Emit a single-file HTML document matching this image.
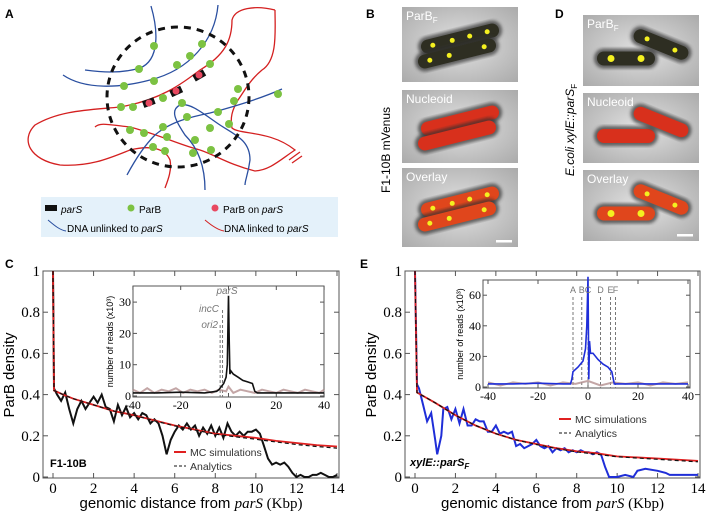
<!DOCTYPE html>
<html><head><meta charset="utf-8"><style>
body{margin:0;background:#fff;width:709px;height:511px;overflow:hidden}
svg{display:block}
text{font-family:"Liberation Sans",sans-serif}
.serif{font-family:"Liberation Serif",serif}
</style></head><body>
<svg id="fig" width="709" height="511" viewBox="0 0 709 511" xmlns="http://www.w3.org/2000/svg">
<text x="5" y="18" font-size="12" font-weight="bold">A</text>
<text x="366" y="18" font-size="12" font-weight="bold">B</text>
<text x="555" y="18" font-size="12" font-weight="bold">D</text>
<text x="5" y="268" font-size="12" font-weight="bold">C</text>
<text x="360" y="268" font-size="12" font-weight="bold">E</text>

<g fill="none" stroke-width="1.3">
<path d="M151 6 C158 30 160 60 140 68 C120 74 100 72 85 70" stroke="#2a4fa0"/>
<path d="M218 5 C215 40 190 70 150 80 C120 88 85 90 63 75" stroke="#2a4fa0"/>
<path d="M275 10 C275 30 278 60 262 70 C250 80 245 90 238 100 C232 110 230 118 232 128 C240 135 270 130 295 150 C280 160 270 170 255 171 C230 165 215 155 200 150 C180 145 160 135 130 127 C110 125 100 122 95 127" stroke="#d42020"/>
<path d="M275 10 C255 5 235 8 232 20 C232 40 225 55 200 70 C180 85 160 100 120 107 C90 110 60 110 35 125 C20 140 30 160 60 165 C90 167 110 158 130 150 C150 145 165 148 170 160 C172 170 168 180 165 188" stroke="#d42020"/>
<path d="M282 89 C262 98 240 105 210 113 C190 117 170 122 155 135 C145 145 135 160 127 175" stroke="#2a4fa0"/>
<path d="M205 190 C205 170 200 150 185 135 C175 120 170 110 180 105 C190 102 205 115 220 125 C235 135 250 140 250 160 C248 175 245 180 245 185" stroke="#2a4fa0"/>
<line x1="289" y1="160" x2="300" y2="152" stroke="#d42020"/>
<line x1="292" y1="163" x2="302" y2="156" stroke="#d42020"/>
<ellipse cx="178" cy="97" rx="71" ry="70" stroke="#111" stroke-width="3" stroke-dasharray="7,6"/>
<g fill="#7cc242" stroke="none">
<circle cx="154" cy="46" r="4"/><circle cx="139" cy="69" r="4"/><circle cx="124" cy="86" r="4"/><circle cx="154" cy="81" r="4"/><circle cx="177" cy="65" r="4"/><circle cx="190" cy="56" r="4"/><circle cx="202" cy="44" r="4"/><circle cx="210" cy="64" r="4"/>
<circle cx="121" cy="107" r="4"/><circle cx="133" cy="107" r="4"/><circle cx="163" cy="98" r="4"/><circle cx="182" cy="103" r="4"/><circle cx="238" cy="89" r="4"/><circle cx="234" cy="101" r="4"/><circle cx="218" cy="112" r="4"/><circle cx="229" cy="124" r="4"/><circle cx="278" cy="94" r="4"/>
<circle cx="130" cy="130" r="4"/><circle cx="144" cy="133" r="4"/><circle cx="163" cy="127" r="4"/><circle cx="187" cy="117" r="4"/><circle cx="210" cy="128" r="4"/><circle cx="167" cy="137" r="4"/><circle cx="195" cy="140" r="4"/><circle cx="153" cy="147" r="4"/><circle cx="165" cy="151" r="4"/><circle cx="193" cy="153" r="4"/><circle cx="211" cy="150" r="4"/>
</g>
<g stroke="none"><rect x="143" y="99" width="12" height="7" fill="#111" transform="rotate(-20 149 103)"/><circle cx="149" cy="103" r="3.5" fill="#e84860"/>
<rect x="170" y="88" width="12" height="7" fill="#111" transform="rotate(-25 176 91)"/><circle cx="176" cy="91" r="3.5" fill="#e84860"/>
<rect x="193" y="72" width="12" height="7" fill="#111" transform="rotate(-30 199 75)"/><circle cx="199" cy="75" r="3.5" fill="#e84860"/></g>
</g>
<g>
<rect x="41" y="197" width="297" height="40" fill="#e4f1fa"/>
<rect x="45" y="205" width="12" height="6" fill="#111"/>
<text x="61" y="213" font-size="10" font-style="italic">parS</text>
<circle cx="131" cy="208" r="3.5" fill="#7cc242"/><text x="139" y="213" font-size="10">ParB</text>
<circle cx="215" cy="208" r="3.5" fill="#e84860"/><text x="223" y="213" font-size="10">ParB on <tspan font-style="italic">parS</tspan></text>
<path d="M48 220 C55 226 60 230 66 231" stroke="#2a4fa0" fill="none"/><text x="67" y="232" font-size="10">DNA unlinked to <tspan font-style="italic">parS</tspan></text>
<path d="M205 220 C212 226 218 230 224 231" stroke="#d42020" fill="none"/><text x="224" y="232" font-size="10">DNA linked to <tspan font-style="italic">parS</tspan></text>
</g>

<defs>
<radialGradient id="bg" cx="50%" cy="50%" r="70%"><stop offset="0" stop-color="#e2e2e2"/><stop offset="1" stop-color="#ababab"/></radialGradient>
<filter id="blur"><feGaussianBlur stdDeviation="1.5"/></filter>
</defs>
<text x="0" y="0" font-size="12" transform="translate(390 150) rotate(-90)" text-anchor="middle">F1-10B mVenus</text>
<text x="0" y="0" font-size="12" transform="translate(574 130) rotate(-90)" text-anchor="middle"><tspan font-style="italic">E.coli xylE::parS</tspan><tspan font-size="8" dy="3">F</tspan></text>
<g id="micro"></g>

<g id="chartC"></g>
<g id="chartE"></g>
</svg>
<script>
// ---- data: panel C main ----
const cX = [0,0.05,0.2,0.4,0.6,0.8,1.0,1.2,1.4,1.6,1.8,2.0,2.2,2.4,2.6,2.8,3.0,3.2,3.4,3.6,3.8,4.0,4.2,4.4,4.6,4.8,5.0,5.2,5.4,5.6,5.8,6.0,6.2,6.4,6.6,6.8,7.0,7.2,7.4,7.6,7.8,8.0,8.2,8.4,8.6,8.8,9.0,9.2,9.4,9.6,9.8,10.0,10.2,10.4,10.6,10.8,11.0,11.2,11.4,11.6,11.8,12.0,12.2,12.4,12.6,12.8,13.0,13.2,13.4,13.6,13.8,14.0];
const cData = [1.0,0.43,0.40,0.37,0.41,0.33,0.26,0.33,0.37,0.33,0.36,0.39,0.36,0.40,0.34,0.33,0.27,0.35,0.30,0.34,0.29,0.31,0.28,0.31,0.30,0.26,0.28,0.26,0.20,0.11,0.18,0.22,0.25,0.23,0.26,0.23,0.25,0.20,0.24,0.21,0.25,0.20,0.24,0.19,0.26,0.22,0.20,0.22,0.20,0.22,0.22,0.23,0.21,0.15,0.09,0.06,0.07,0.06,0.07,0.05,0.02,0.0,0.01,0.0,0.0,0.01,0.01,0.02,0.01,0.0,0.0,0.01];
const cModelX = [0,0.05,0.5,1,2,3,4,5,6,7,8,9,10,11,12,13,14];
const cMC = [1.0,0.42,0.40,0.38,0.35,0.32,0.30,0.275,0.25,0.23,0.21,0.20,0.19,0.175,0.165,0.155,0.148];
const cAn = [1.0,0.42,0.40,0.38,0.35,0.32,0.30,0.273,0.248,0.228,0.208,0.195,0.183,0.17,0.158,0.148,0.14];
// ---- data: panel C inset ----
const ciX = [-40,-30,-20,-10,-5,-4,-2,-1,-0.5,0,0.3,0.6,1,2,4,6,8,10,11,12,20,30,40];
const ciBlack = [1,1,1.2,1,1.5,2,4,6,10,32,18,7,8,7,6,5,4.5,4,1.5,1,1,1,1];
const ciBgX = [-40,-37,-34,-31,-28,-25,-22,-19,-16,-13,-10,-7,-4,-1,0,2,5,8,11,14,17,20,23,26,29,32,35,38,40];
const ciBg = [2,1,2.5,1,2,1.5,2.5,1,2,1.5,2,1,2,1.5,3,1,2,1.5,1,2,1.5,1,2,1.5,1,2,1.5,1,2];
const ciYTicks = [0,10,20,30];
const ciXTicks = [-40,-20,0,20,40];
const ciMarks = [-3.5,-2.5];
// ---- data: panel E main ----
const eX = [0,0.1,0.2,0.4,0.6,0.8,1.0,1.1,1.3,1.4,1.6,1.8,2.0,2.2,2.4,2.6,2.8,3.0,3.2,3.4,3.6,3.8,4.0,4.2,4.4,4.6,4.8,5.0,5.2,5.4,5.6,5.8,6.0,6.2,6.4,6.6,6.8,7.0,7.2,7.4,7.6,7.8,8.0,8.2,8.4,8.6,8.8,9.0,9.2,9.4,9.6,10.0,10.4,10.8,11.0,11.4,12.0,12.4,12.6,13.0,14.0];
const eData = [1.0,0.45,0.43,0.35,0.27,0.31,0.18,0.11,0.20,0.33,0.34,0.28,0.33,0.26,0.33,0.25,0.25,0.28,0.27,0.27,0.22,0.22,0.25,0.21,0.22,0.21,0.22,0.15,0.16,0.14,0.15,0.16,0.18,0.15,0.14,0.15,0.12,0.14,0.13,0.14,0.12,0.13,0.12,0.13,0.12,0.12,0.11,0.12,0.11,0.05,0.0,0.0,0.01,0.0,0.03,0.04,0.03,0.02,0.01,0.01,0.01];
const eModelX = [0,0.1,1,2,3,4,5,6,7,8,9,10,12,14];
const eMC = [1.0,0.41,0.36,0.30,0.25,0.21,0.18,0.16,0.14,0.125,0.115,0.10,0.09,0.078];
const eAn = [1.0,0.41,0.36,0.30,0.25,0.21,0.18,0.158,0.138,0.122,0.11,0.098,0.086,0.074];
// ---- data: panel E inset ----
const eiX = [-40,-30,-20,-10,-7,-6.5,-6,-4,-2,-1,-0.5,0,0.3,0.6,1,2,4,6,8,9.5,10.5,12,20,30,40];
const eiBlue = [2,2,2.5,2,2,5,10,13,17,25,40,72,5,30,22,22,18,15,13,10,2,2,2,2,2];
const eiBgX = [-40,-35,-30,-25,-20,-15,-10,-5,0,5,10,15,20,25,30,35,40];
const eiBg = [3,1,3,2,3,1,3,2,4,1,3,2,3,1,3,2,3];
const eiYTicks = [0,20,40,60];
const eiXTicks = [-40,-20,0,20,40];
const eiMarks = [-6,-2.5,0,5,9,11];
const eiMarkLabels = ['A','B','C','D','E','F'];
const mainYTicks = [0,0.2,0.4,0.6,0.8,1];
const mainXTicks = [0,2,4,6,8,10,12,14];

const NS='http://www.w3.org/2000/svg';
function mk(parent,tag,attrs,txt){const e=document.createElementNS(NS,tag);for(const k in attrs)e.setAttribute(k,attrs[k]);if(txt!==undefined)e.textContent=txt;parent.appendChild(e);return e;}
function pathOf(xs,ys,X,Y){return xs.map((x,i)=>(i?'L':'M')+X(x).toFixed(1)+' '+Y(ys[i]).toFixed(1)).join(' ');}

function mainChart(g,o){
  const X=v=>o.x0+v*o.kx, Y=v=>477-206*v;
  const box=mk(g,'rect',{x:o.left,y:271,width:o.right-o.left,height:207,fill:'none',stroke:'#555','stroke-width':1});
  
  mainYTicks.forEach(t=>{
    const l=mk(g,'line',{x1:o.left,x2:o.left+5,y1:Y(t),y2:Y(t),stroke:'#555'});
    
    mk(g,'line',{x1:o.right,x2:o.right-5,y1:Y(t),y2:Y(t),stroke:'#555'});
    const tx=mk(g,'text',{x:o.left-3,y:Y(t)+5,'font-size':15,'text-anchor':'end',class:'serif'},String(t));
    
  });
  mainXTicks.forEach(t=>{
    const l=mk(g,'line',{x1:X(t),x2:X(t),y1:478,y2:473,stroke:'#555'});
    
    mk(g,'line',{x1:X(t),x2:X(t),y1:271,y2:276,stroke:'#555'});
    const tx=mk(g,'text',{x:X(t),y:493,'font-size':15,'text-anchor':'middle',class:'serif'},String(t));
    
  });
  const yl=mk(g,'text',{x:0,y:0,'font-size':15,'text-anchor':'middle',transform:`translate(${o.left-29} 375) rotate(-90)`},'ParB density');
  
  const xl=mk(g,'text',{x:(o.left+o.right)/2,y:508,'font-size':15,'text-anchor':'middle'});
  
  mk(xl,'tspan',{},'genomic distance from ');mk(xl,'tspan',{'font-style':'italic',class:'serif'},'parS');mk(xl,'tspan',{class:'serif'},' (Kbp)');
  const dp=mk(g,'path',{d:pathOf(o.dx,o.dy,X,Y),fill:'none',stroke:o.col,'stroke-width':2});
  
  const mc=mk(g,'path',{d:pathOf(o.mx,o.mc,X,Y),fill:'none',stroke:'#e02020','stroke-width':1.8});
  
  const an=mk(g,'path',{d:pathOf(o.mx,o.an,X,Y),fill:'none',stroke:'#111','stroke-width':1.2,'stroke-dasharray':'4,3'});
  
  const lg=mk(g,'g',{});
  
  mk(lg,'line',{x1:o.lx,x2:o.lx+12,y1:o.ly,y2:o.ly,stroke:'#e02020','stroke-width':2});
  mk(lg,'text',{x:o.lx+16,y:o.ly+4,'font-size':10.5,fill:'#333'},'MC simulations');
  mk(lg,'line',{x1:o.lx,x2:o.lx+12,y1:o.ly+14,y2:o.ly+14,stroke:'#111','stroke-dasharray':'3,2'});
  mk(lg,'text',{x:o.lx+16,y:o.ly+18,'font-size':10.5,fill:'#333'},'Analytics');
}
function inset(g,o){
  const X=v=>o.x0+v*o.kx, Y=v=>o.y0-v*o.ky;
  const b=mk(g,'rect',{x:o.left,y:o.top,width:o.right-o.left,height:o.bottom-o.top,fill:'#fff',stroke:'#555'});
  
  o.yt.forEach(t=>{mk(g,'line',{x1:o.left,x2:o.left+4,y1:Y(t),y2:Y(t),stroke:'#555'});mk(g,'line',{x1:o.right,x2:o.right-4,y1:Y(t),y2:Y(t),stroke:'#555'});
    const tx=mk(g,'text',{x:o.left-2,y:Y(t)+4,'font-size':12,'text-anchor':'end',class:'serif'},String(t));
    });
  o.xt.forEach(t=>{mk(g,'line',{x1:X(t),x2:X(t),y1:o.bottom,y2:o.bottom-4,stroke:'#555'});mk(g,'line',{x1:X(t),x2:X(t),y1:o.top,y2:o.top+4,stroke:'#555'});
    const tx=mk(g,'text',{x:X(t),y:o.bottom+12,'font-size':12,'text-anchor':'middle',class:'serif'},String(t));
    });
  const yl=mk(g,'text',{x:0,y:0,'font-size':9,'text-anchor':'middle',transform:`translate(${o.left-20} ${(o.top+o.bottom)/2}) rotate(-90)`},'number of reads (x10³)');
  
  o.marks.forEach((m,i)=>{const l=mk(g,'line',{x1:X(m),x2:X(m),y1:o.markTop[i],y2:o.bottom,stroke:'#777','stroke-dasharray':'3,2'});
    });
  const bg=mk(g,'path',{d:pathOf(o.bx,o.by,X,Y),fill:'none',stroke:'#b49090','stroke-width':2,opacity:0.8});
  
  const dl=mk(g,'path',{d:pathOf(o.dx,o.dy,X,Y),fill:'none',stroke:o.col,'stroke-width':1.6});
  
  return {X,Y};
}
const gC=document.getElementById('chartC'), gE=document.getElementById('chartE');
mainChart(gC,{x0:53,kx:284/14,left:43,right:339,dx:cX,dy:cData,mx:cModelX,mc:cMC,an:cAn,col:'#111',lx:174,ly:452});
mainChart(gE,{x0:415,kx:283/14,left:405,right:700,dx:eX,dy:eData,mx:eModelX,mc:eMC,an:eAn,col:'#1f2ed8',lx:559,ly:419});
const iC=inset(gC,{left:133,right:324,top:286,bottom:397,x0:228.5,kx:2.39,y0:396,ky:3.13,yt:ciYTicks,xt:ciXTicks,marks:ciMarks,markTop:[325,310],bx:ciBgX,by:ciBg,dx:ciX,dy:ciBlack,col:'#111'});
mk(gC,'text',{x:227,y:294,'font-size':10,'text-anchor':'middle','font-style':'italic',fill:'#777'},'parS');
mk(gC,'text',{x:219,y:312,'font-size':10,'text-anchor':'end','font-style':'italic',fill:'#777'},'incC');
mk(gC,'text',{x:218,y:328,'font-size':10,'text-anchor':'end','font-style':'italic',fill:'#777'},'ori2');
const iE=inset(gE,{left:483,right:690,top:280,bottom:388,x0:588,kx:2.5,y0:387,ky:1.53,yt:eiYTicks,xt:eiXTicks,marks:eiMarks,markTop:[297,297,297,297,297,297],bx:eiBgX,by:eiBg,dx:eiX,dy:eiBlue,col:'#1f2ed8'});
eiMarks.forEach((m,i)=>{const t=mk(gE,'text',{x:iE.X(m),y:293,'font-size':9,'text-anchor':'middle',fill:'#777'},eiMarkLabels[i]);
});
const s1=mk(gC,'text',{x:50,y:467,'font-size':11,'font-weight':'bold'},'F1-10B');

const s2=mk(gE,'text',{x:410,y:466,'font-size':11,'font-weight':'bold','font-style':'italic'},'xylE::parS');

mk(s2,'tspan',{'font-size':8,dy:3},'F');

const mg=document.getElementById('micro');
const panels=[
 {x:402,y:7,w:116,h:75,t:'ParB',sub:'F',kind:'g',set:'b'},{x:402,y:90,w:116,h:73,t:'Nucleoid',kind:'r',set:'b'},{x:402,y:168,w:116,h:79,t:'Overlay',kind:'o',set:'b',bar:1},
 {x:583,y:15,w:116,h:71,t:'ParB',sub:'F',kind:'g',set:'d'},{x:583,y:93,w:116,h:70,t:'Nucleoid',kind:'r',set:'d'},{x:583,y:170,w:116,h:71,t:'Overlay',kind:'o',set:'d',bar:1}];
panels.forEach(p=>{
  const g=mk(mg,'g',{});
  
  
  mk(g,'rect',{x:p.x,y:p.y,width:p.w,height:p.h,fill:'url(#bg)'});
  const cx=p.x+p.w/2, cy=p.y+p.h/2;
  const cells = p.set==='b' ? [[cx,cy-6,-14,0],[cx-3,cy+9,-14,1]] : [[cx-15,cy+8,0,2],[cx+20,cy-6,22,3]];
  const fill = p.kind==='g'?'#2e2e22':(p.kind==='r'?'#d8301c':'#e0461c');
  cells.forEach(c=>{
    const L=p.set==='b'?80:58;
    mk(g,'rect',{x:c[0]-L/2-3,y:c[1]-10,width:L+6,height:20,rx:10,fill:'#333',opacity:0.7,filter:'url(#blur)',transform:`rotate(${c[2]} ${c[0]} ${c[1]})`});
    mk(g,'rect',{x:c[0]-L/2,y:c[1]-7,width:L,height:14,rx:7,fill:fill,transform:`rotate(${c[2]} ${c[0]} ${c[1]})`});
    if(p.kind!=='r'){
      const dots=p.set==='b'?[-28,-8,10,28]:[-15,15];
      dots.forEach((d,i)=>{ if(p.set==='b'&&c[3]===1&&i===2) return;
        const a=c[2]*Math.PI/180;
        mk(g,'circle',{cx:c[0]+d*Math.cos(a),cy:c[1]+d*Math.sin(a),r:p.set==='d'&&c[3]===2?3.5:2.5,fill:'#f4f020'});});
    }
  });
  const tt=mk(g,'text',{x:p.x+4,y:p.y+13,'font-size':12,fill:'#fff'},p.t);
  if(p.sub) mk(tt,'tspan',{'font-size':8,dy:3},p.sub);
  if(p.bar) mk(g,'rect',{x:p.x+p.w-22,y:p.y+p.h-7,width:16,height:2.5,fill:'#fff'});
});
</script>
</body></html>
